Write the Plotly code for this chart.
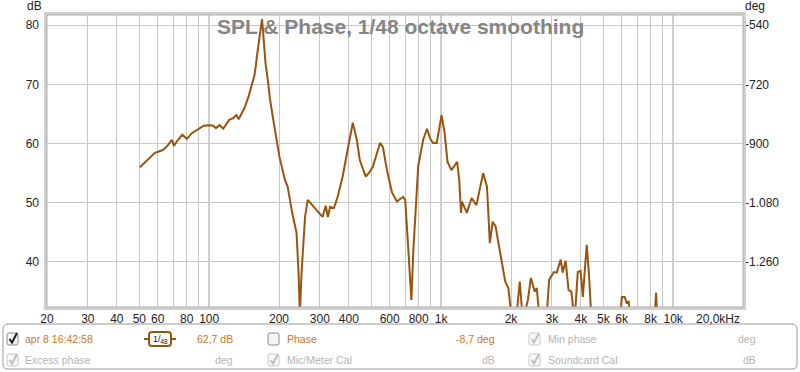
import numpy as np
import plotly.graph_objects as go

# ---------------- data ----------------
freq_hz = [50.3, 53.9, 58.2, 60.2, 63.2, 66, 69.1, 70.5, 73, 76.6, 80.2, 84, 88.4, 94.7,
           100, 104, 107, 111, 115, 122, 127, 131, 134, 142, 148, 153, 157, 162, 167, 169,
           171, 175, 179, 183, 189, 198, 201, 212, 218, 228, 238, 243, 246, 250, 259, 266,
           278, 292, 308, 318, 325, 332, 345, 358, 376, 395, 416, 433, 446, 473, 492, 508,
           528, 545, 561, 584, 614, 645, 685, 700, 722, 744, 759, 796, 836, 869, 895, 922,
           957, 1004, 1035, 1065, 1107, 1172, 1196, 1218, 1230, 1290, 1353, 1419, 1517,
           1576, 1621, 1667, 1716, 1828, 1888, 1948, 2020, 2100, 2182, 2250, 2365, 2435,
           2532, 2583, 2660, 2840, 2920, 3060, 3150, 3275, 3340, 3440, 3540, 3640, 3760,
           3880, 3990, 4080, 4240, 4330, 4450, 5000, 5900, 6010, 6180, 6300, 6430, 6550,
           7500, 8300, 8440, 8550, 10000, 20000]
spl_db = [56.0, 57.2, 58.4, 58.6, 58.9, 59.6, 60.6, 59.6, 60.5, 61.5, 60.8, 61.7, 62.3, 63.0,
          63.1, 63.0, 62.6, 63.1, 62.5, 64.0, 64.3, 64.8, 64.1, 66.0, 68.0, 70.2, 71.6, 75.8,
          79.2, 81.0, 78.6, 73.5, 70.7, 67.4, 64.0, 58.9, 57.7, 53.9, 52.7, 48.3, 44.9, 38.0,
          31.0, 38.0, 47.6, 50.5, 49.6, 48.5, 47.6, 49.5, 47.6, 49.3, 49.1, 51.0, 54.4, 58.9,
          63.5, 60.6, 57.2, 54.4, 55.2, 56.1, 58.4, 60.1, 59.4, 55.5, 51.7, 50.2, 51.0, 50.5,
          42.0, 33.6, 42.0, 56.1, 60.6, 62.5, 60.9, 60.1, 60.1, 64.8, 61.8, 56.9, 55.5, 56.9,
          53.9, 48.3, 50.2, 48.3, 50.8, 49.6, 55.0, 52.7, 43.2, 46.8, 46.0, 39.9, 36.7, 35.6,
          30.0, 30.0, 36.7, 30.0, 33.6, 37.3, 35.0, 35.6, 30.0, 30.0, 37.0, 38.3, 38.2, 40.4,
          38.2, 40.2, 35.3, 35.0, 30.0, 38.3, 38.5, 34.1, 42.9, 38.2, 30.0, 25.0, 30.0, 34.1,
          34.1, 33.1, 33.3, 30.0, 25.0, 30.0, 34.8, 30.0, 25.0, 20.0]

label_freqs = [20, 30, 40, 50, 60, 80, 100, 200, 300, 400, 600, 800,
               1000, 2000, 3000, 4000, 5000, 6000, 8000, 10000]
label_texts = ["20", "30", "40", "50", "60", "80", "100", "200", "300", "400", "600", "800",
               "1k", "2k", "3k", "4k", "5k", "6k", "8k", "10k"]
unlabeled_grid_freqs = [70, 90, 500, 700, 900, 7000, 9000, 20000]
major_freqs = [100, 1000, 10000]
db_ticks = [40, 50, 60, 70, 80]
deg_ticks = [-540, -720, -900, -1080, -1260]
deg_labels = ["-540", "-720", "-900", "-1.080", "-1.260"]

db_range = [32.4, 81.7]
deg_range = [-540 + (db_range[0] - 80) * 18, -540 + (db_range[1] - 80) * 18]

# ---------------- geometry helpers (pixels -> paper) ----------------
L, R, T, B = 47, 743, 15, 307
W, H = R - L, B - T
def px(x):
    return (x - L) / W
def py(y):
    return (B - y) / H

FONT = "Liberation Sans, Arial, sans-serif"
CURVE = "#99550f"
ORANGE = "#c8782a"
LGRAY = "#b4b4b4"

fig = go.Figure()
fig.add_trace(go.Scatter(x=freq_hz, y=spl_db, mode="lines",
                         line=dict(color=CURVE, width=2), hoverinfo="skip",
                         showlegend=False))
# invisible trace for the right (phase) axis
fig.add_trace(go.Scatter(x=[1000], y=[-900], yaxis="y2", mode="markers",
                         marker=dict(opacity=0), hoverinfo="skip", showlegend=False))

shapes = []
for f in major_freqs:
    shapes.append(dict(type="line", xref="x", yref="paper", x0=f, x1=f, y0=0, y1=1,
                       line=dict(color="#7c7c7c", width=1), layer="between"))
shapes.append(dict(type="rect", xref="paper", yref="paper", x0=px(45.5), x1=px(744.5),
                   y0=py(308.5), y1=py(13.5), line=dict(color="#cfcfcf", width=3)))
shapes.append(dict(type="rect", xref="paper", yref="paper", x0=px(47), x1=px(743),
                   y0=py(307), y1=py(15), line=dict(color="#b0b0b0", width=1)))

def rrect(x0, y0, x1, y1, r):
    return (f"M {px(x0+r)} {py(y0)} L {px(x1-r)} {py(y0)} "
            f"Q {px(x1)} {py(y0)} {px(x1)} {py(y0+r)} L {px(x1)} {py(y1-r)} "
            f"Q {px(x1)} {py(y1)} {px(x1-r)} {py(y1)} L {px(x0+r)} {py(y1)} "
            f"Q {px(x0)} {py(y1)} {px(x0)} {py(y1-r)} L {px(x0)} {py(y0+r)} "
            f"Q {px(x0)} {py(y0)} {px(x0+r)} {py(y0)} Z")

shapes.append(dict(type="path", xref="paper", yref="paper", path=rrect(3, 324, 797, 369, 5),
                   line=dict(color="#9a9a9a", width=1), fillcolor="white"))

def checkbox(x, y, checked, enabled):
    out = []
    out.append(dict(type="path", xref="paper", yref="paper",
                    path=rrect(x, y - 6, x + 11, y + 6, 2),
                    line=dict(color="#8c8c8c" if enabled else "#c8c8c8", width=1),
                    fillcolor="#f4f4f4" if enabled else "#f8f8f8"))
    if checked:
        c = "#202020" if enabled else "#c0c0c0"
        out.append(dict(type="path", xref="paper", yref="paper",
                        path=(f"M {px(x+2.5)} {py(y)} L {px(x+5)} {py(y+3.5)} "
                              f"L {px(x+10)} {py(y-6)}"),
                        line=dict(color=c, width=2)))
    return out

row1, row2 = 339, 360
shapes += checkbox(7, row1, True, True)
shapes += checkbox(268, row1, False, True)
shapes += checkbox(529, row1, True, False)
shapes += checkbox(7, row2, True, False)
shapes += checkbox(268, row2, True, False)
shapes += checkbox(529, row2, True, False)

shapes.append(dict(type="path", xref="paper", yref="paper", path=rrect(149, 332, 171, 346, 3),
                   line=dict(color=CURVE, width=2), fillcolor="white"))
shapes.append(dict(type="line", xref="paper", yref="paper", x0=px(144), x1=px(149),
                   y0=py(339), y1=py(339), line=dict(color=CURVE, width=2)))
shapes.append(dict(type="line", xref="paper", yref="paper", x0=px(171), x1=px(176),
                   y0=py(339), y1=py(339), line=dict(color=CURVE, width=2)))

ann = []
def text(x, y, s, color, size=11, anchor="left", bold=False):
    ann.append(dict(xref="paper", yref="paper", x=px(x), y=py(y), text=s, showarrow=False,
                    xanchor=anchor, yanchor="middle",
                    font=dict(family=FONT, size=size, color=color,
                              weight="bold" if bold else "normal")))

text(400, 26, "SPL & Phase, 1/48 octave smoothing", "#858585", size=21, anchor="center", bold=True)
text(34, 6, "dB", "#222222", size=12, anchor="center")
text(755, 6, "deg", "#222222", size=12, anchor="center")
text(742, 319, "20,0kHz", "#222222", size=12, anchor="right")

LS = 10.5
text(23, row1, "apr 8 16:42:58", ORANGE, size=LS)
text(160, 339, "1/<sub>48</sub>", "#111111", size=9, anchor="center")
text(235, row1, "62,7 dB", ORANGE, size=LS, anchor="right")
text(285, row1, "Phase", ORANGE, size=LS)
text(497, row1, "-8,7 deg", ORANGE, size=LS, anchor="right")
text(546, row1, "Min phase", LGRAY, size=LS)
text(758, row1, "deg", LGRAY, size=LS, anchor="right")
text(23, row2, "Excess phase", LGRAY, size=LS)
text(235, row2, "deg", LGRAY, size=LS, anchor="right")
text(285, row2, "Mic/Meter Cal", LGRAY, size=LS)
text(497, row2, "dB", LGRAY, size=LS, anchor="right")
text(546, row2, "Soundcard Cal", LGRAY, size=LS)
text(758, row2, "dB", LGRAY, size=LS, anchor="right")

fig.update_layout(
    width=800, height=372,
    margin=dict(l=L, r=800 - R, t=T, b=372 - B),
    paper_bgcolor="white", plot_bgcolor="white",
    font=dict(family=FONT, size=12, color="#222222"),
    xaxis=dict(type="log", range=[np.log10(20), np.log10(20000)],
               tickmode="array", tickvals=label_freqs, ticktext=label_texts,
               showgrid=True, gridcolor="#c8c8c8", gridwidth=1,
               minor=dict(tickmode="array", tickvals=unlabeled_grid_freqs, showgrid=True,
                          gridcolor="#c8c8c8", gridwidth=1, ticks=""),
               zeroline=False, showline=False, ticks="", ticklabelstandoff=3,
               tickfont=dict(size=12, color="#222222")),
    yaxis=dict(range=db_range, tickmode="array", tickvals=db_ticks,
               showgrid=True, gridcolor="#c8c8c8", gridwidth=1,
               zeroline=False, showline=False, ticks="", ticklabelstandoff=7,
               tickfont=dict(size=12, color="#222222")),
    yaxis2=dict(range=deg_range, overlaying="y", side="right", tickmode="array",
                tickvals=deg_ticks, ticktext=deg_labels, showgrid=False,
                zeroline=False, showline=False, ticks="", ticklabelstandoff=1,
                tickfont=dict(size=12, color="#222222")),
    shapes=shapes, annotations=ann, showlegend=False,
)

fig.write_html("out.html", config={"displayModeBar": False},
               post_script="document.body.style.margin='0';document.body.style.padding='0';"
                           "document.body.style.overflow='hidden';")
